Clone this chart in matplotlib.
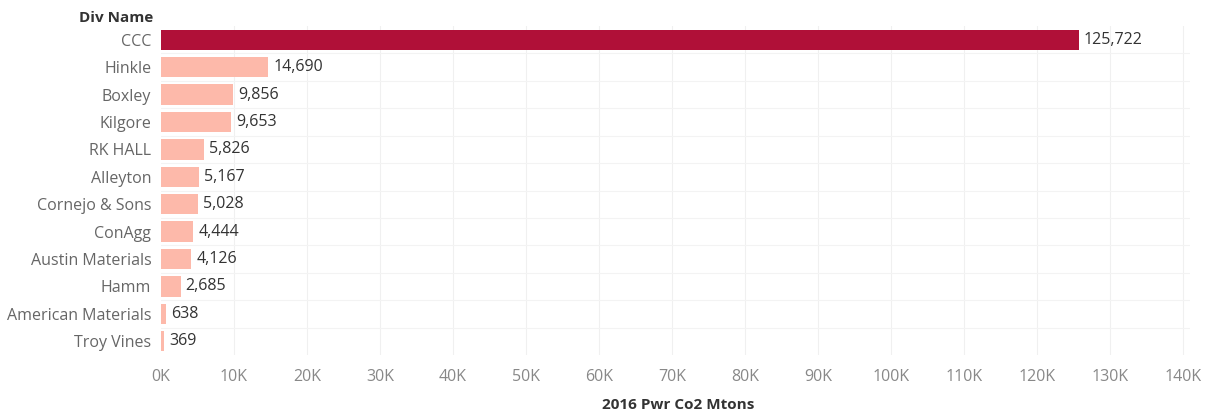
import matplotlib.pyplot as plt
import numpy as np

divs = ['CCC', 'Hinkle', 'Boxley', 'Kilgore', 'RK HALL', 'Alleyton', 'Cornejo & Sons',
        'ConAgg', 'Austin Materials', 'Hamm', 'American Materials', 'Troy Vines']
co2 = [125722, 14690, 9856, 9653, 5826, 5167, 5028, 4444, 4126, 2685, 638, 369]
ticks = list(range(0, 140001, 10000))
tick_labels = ['%dK' % (t // 1000) for t in ticks]

plt.rcParams['font.family'] = ['Open Sans', 'DejaVu Sans']

fig = plt.figure(figsize=(12.07, 4.17), dpi=100)
ax = fig.add_axes([0.1334, 0.1487, 0.986 - 0.1334, 0.9376 - 0.1487])

y = np.arange(len(divs))
colors = ['#B01038'] + ['#FDB9AA'] * (len(divs) - 1)
ax.barh(y, co2, height=0.74, color=colors, zorder=2)
for yi, v in zip(y, co2):
    ax.text(v + 700, yi, '{:,}'.format(v), va='center', ha='left', fontsize=11.5, color='#333333')

ax.set_ylim(len(divs) - 0.5, -0.5)
ax.set_xlim(0, 141000)
ax.set_yticks(y)
ax.set_yticklabels(divs, fontsize=11.5, color='#666666')
ax.set_xticks(ticks)
ax.set_xticklabels(tick_labels, fontsize=11.5, color='#888888')
ax.tick_params(length=0, pad=7)
ax.tick_params(axis='x', pad=10)

# faint grid
for t in ticks[1:]:
    ax.axvline(t, color='#F0F0F0', lw=0.8, zorder=0)
for b in np.arange(0.5, len(divs) - 1, 1):
    ax.axhline(b, color='#F3F3F3', lw=0.8, zorder=0)
for s in ax.spines.values():
    s.set_visible(False)

fig.text(0.127, 0.958, 'Div Name', ha='right', va='center', fontsize=11,
         fontweight='bold', color='#333333')
fig.text(0.562, 0.028, '2016 Pwr Co2 Mtons', ha='center', va='center', fontsize=11,
         fontweight='bold', color='#333333')

fig.savefig('out.png', dpi=100)
